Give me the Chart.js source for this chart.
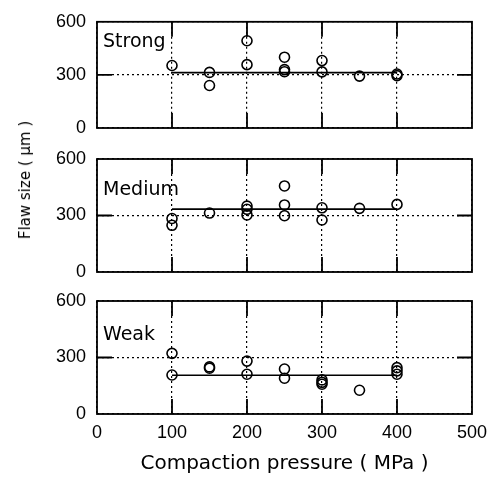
<!DOCTYPE html>
<html>
<head>
<meta charset="utf-8">
<script src="https://cdn.jsdelivr.net/npm/chart.js@4"></script>
<style>
  body{margin:0;background:#fff;}
  #wrap{position:relative;width:493px;height:483px;}
  #wrap canvas{position:absolute;left:0;top:0;}
  #ytitle{position:absolute;left:25px;top:180px;transform:translate(-50%,-50%) rotate(-90deg);
    font:15px "DejaVu Sans";white-space:nowrap;color:#000;}
</style>
</head>
<body>
<div id="wrap">
  <canvas id="strong" width="493" height="483"></canvas>
  <canvas id="medium" width="493" height="483"></canvas>
  <canvas id="weak" width="493" height="483"></canvas>
  <div id="ytitle">Flaw size ( μm )</div>
</div>
<script>
// data
const xTicks = [0,100,200,300,400,500];
const yTicks = [0,300,600];

const strongX = [100,150,150,200,200,250,250,250,300,300,350,400,400];
const strongY = [353,314,240,493,358,400,330,318,381,317,293,305,296];
const strongFit = 313;

const mediumX = [100,100,150,200,200,200,250,250,250,300,300,350,400];
const mediumY = [284,248,313,350,333,303,457,356,299,341,276,338,359];
const mediumFit = 334;

const weakX = [100,100,150,150,200,200,250,250,300,300,300,350,400,400,400];
const weakY = [322,207,250,243,281,211,239,190,181,168,158,126,246,229,211];
const weakFit = 206;

const fitFrom = 100, fitTo = 400;

//------------------------
// frame + inner ticks + panel name
//------------------------
const frame = {
    id:"frame",
    beforeDatasetsDraw(chart){
        const {ctx, chartArea:a, scales} = chart;
        const L = 15;
        ctx.save();
        ctx.strokeStyle="#000";
        ctx.lineWidth=1.8;
        ctx.beginPath();
        scales.x.ticks.forEach(t=>{
            if(t.value<=0 || t.value>=500) return;
            const px=scales.x.getPixelForValue(t.value);
            ctx.moveTo(px,a.top); ctx.lineTo(px,a.top+L);
            ctx.moveTo(px,a.bottom); ctx.lineTo(px,a.bottom-L);
        });
        scales.y.ticks.forEach(t=>{
            if(t.value<=0 || t.value>=600) return;
            const py=scales.y.getPixelForValue(t.value);
            ctx.moveTo(a.left,py); ctx.lineTo(a.left+L,py);
            ctx.moveTo(a.right,py); ctx.lineTo(a.right-L,py);
        });
        ctx.stroke();
        ctx.strokeRect(a.left,a.top,a.right-a.left,a.bottom-a.top);
        const o=chart.options.plugins.frame;
        ctx.fillStyle="#000";
        ctx.font='19px "DejaVu Sans"';
        ctx.textBaseline="middle";
        ctx.fillText(o.name,a.left+6,a.top+o.nameY);
        ctx.restore();
    }
};

function makePanel(id, name, nameY, xs, ys, fit, top, bottom, showX){
    const pts = xs.map((x,i)=>({x:x,y:ys[i]}));
    return new Chart(document.getElementById(id),{
        type:"scatter",
        data:{
            datasets:[
                {
                    data:pts,
                    pointStyle:"circle",
                    pointRadius:5,
                    pointBorderWidth:1.6,
                    borderColor:"#000",
                    backgroundColor:"rgba(0,0,0,0)"
                },
                {
                    type:"line",
                    data:[{x:fitFrom,y:fit},{x:fitTo,y:fit}],
                    borderColor:"#000",
                    borderWidth:1.6,
                    pointRadius:0
                }
            ]
        },
        options:{
            responsive:false,
            animation:false,
            events:[],
            layout:{padding:{top:top,bottom:showX?3:483-bottom,left:0,right:21}},
            plugins:{legend:{display:false},tooltip:{enabled:false},
                frame:{name:name,nameY:nameY}},
            scales:{
                x:{
                    type:"linear",min:0,max:500,
                    afterBuildTicks:s=>{s.ticks=xTicks.map(v=>({value:v}));},
                    afterFit:s=>{
                        s.height=showX?(483-3-bottom):0;
                        s.paddingLeft=0; s.paddingRight=0;
                    },
                    border:{display:false,dash:[2,3]},
                    grid:{color:"#000",lineWidth:1.2,drawTicks:false},
                    ticks:{display:showX,color:"#000",padding:8,maxRotation:0,
                        font:{family:"Liberation Sans",size:18}},
                    title:{display:showX,text:"Compaction pressure ( MPa )",color:"#000",
                        font:{family:"DejaVu Sans",size:20},padding:{top:0,bottom:4}}
                },
                y:{
                    min:0,max:600,
                    afterBuildTicks:s=>{s.ticks=yTicks.map(v=>({value:v}));},
                    afterFit:s=>{s.width=97;},
                    border:{display:false,dash:[2,3]},
                    grid:{color:"#000",lineWidth:1.2,drawTicks:false},
                    ticks:{color:"#000",padding:11,
                        font:{family:"Liberation Sans",size:18}}
                }
            }
        },
        plugins:[frame]
    });
}

makePanel("strong","Strong",20,strongX,strongY,strongFit,14,128,false);
makePanel("medium","Medium",31,mediumX,mediumY,mediumFit,159,272,false);
makePanel("weak","Weak",34,weakX,weakY,weakFit,301,414,true);
</script>
</body>
</html>
